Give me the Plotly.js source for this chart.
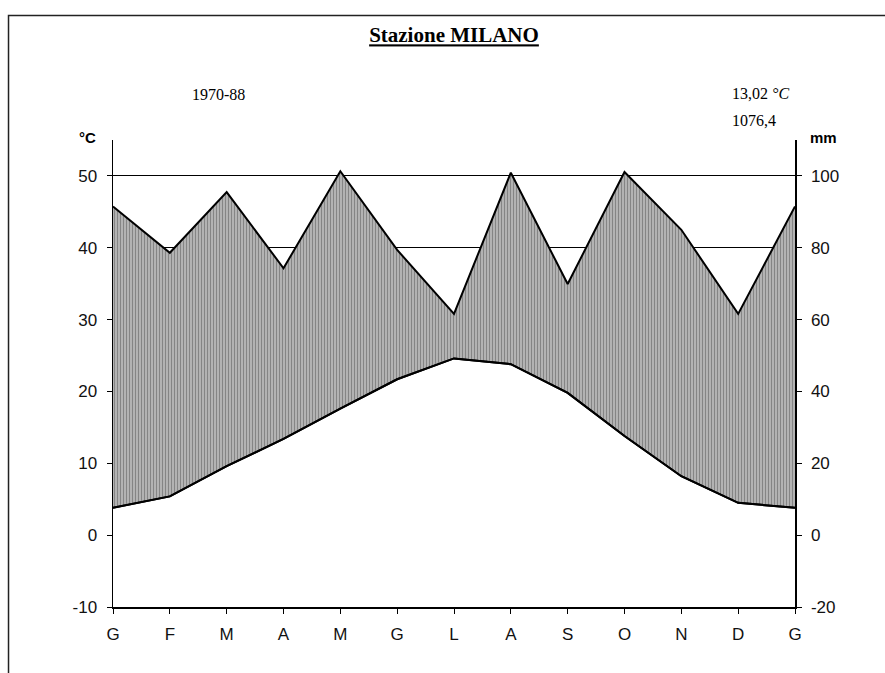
<!DOCTYPE html>
<html>
<head>
<meta charset="utf-8">
<script src="https://cdn.plot.ly/plotly-3.0.1.min.js"></script>
<style>html,body{margin:0;padding:0;background:#fff;}#chart{width:885px;height:673px;}</style>
</head>
<body>
<div id="chart"></div>
<script>
// Month labels (Italian initials), repeated January at the end
var months = ['G','F','M','A','M','G','L','A','S','O','N','D','G'];
// Mean monthly temperature (°C)
var tempC = [3.8, 5.4, 9.6, 13.4, 17.6, 21.7, 24.6, 23.8, 19.8, 13.8, 8.2, 4.5, 3.8];
// Mean monthly precipitation (mm)
var precipMm = [91.5, 78.6, 95.5, 74.3, 101.3, 79.4, 61.6, 100.9, 69.9, 101.1, 85.0, 61.6, 91.5];
// Axis ticks
var tempTicks = [-10, 0, 10, 20, 30, 40, 50];
var tempTickText = ['-10', '0', '10', '20', '30', '40', '50'];
var precipTicks = [-20, 0, 20, 40, 60, 80, 100];
var precipTickText = ['-20', '0', '20', '40', '60', '80', '100'];
var gridTicks = [40, 50];
// Walter-Lieth convention: 1 °C corresponds to 2 mm
var mmPerDeg = 2;

var xIdx = months.map(function(_, i){ return i; });
var precipOnTempScale = precipMm.map(function(p){ return p / mmPerDeg; });

var tickFont = {family: 'Liberation Sans, Arial, sans-serif', size: 17, color: '#111'};

var traces = [
  {x: xIdx, y: tempC, type: 'scatter', mode: 'lines', yaxis: 'y',
   line: {color: '#000', width: 2}, hoverinfo: 'skip', showlegend: false},
  {x: xIdx, y: precipOnTempScale, type: 'scatter', mode: 'lines', yaxis: 'y',
   fill: 'tonexty', fillcolor: 'rgba(0,0,0,0)',
   fillpattern: {shape: '|', size: 3, solidity: 0.75, fgcolor: '#858585', bgcolor: '#fff'},
   line: {color: '#000', width: 2}, hoverinfo: 'skip', showlegend: false},
  {x: xIdx, y: tempC, type: 'scatter', mode: 'lines', yaxis: 'y',
   line: {color: '#000', width: 2}, hoverinfo: 'skip', showlegend: false},
  {x: [0], y: [0], type: 'scatter', mode: 'markers', yaxis: 'y2', marker: {opacity: 0},
   hoverinfo: 'skip', showlegend: false},
  {x: [0], y: [0], type: 'scatter', mode: 'markers', yaxis: 'y3', marker: {opacity: 0},
   hoverinfo: 'skip', showlegend: false}
];

var layout = {
  width: 885, height: 673,
  margin: {l: 113, r: 90, t: 140, b: 66},
  paper_bgcolor: '#fff', plot_bgcolor: 'rgba(0,0,0,0)',
  showlegend: false,
  title: {
    text: '<u><b>Stazione MILANO</b></u>',
    font: {family: 'Liberation Serif, Times New Roman, serif', size: 21, color: '#000'},
    xref: 'paper', x: 0.5, xanchor: 'center',
    yref: 'container', y: 0.948, yanchor: 'middle'
  },
  xaxis: {
    range: [0, 12], tickmode: 'array', tickvals: xIdx, ticktext: months,
    showgrid: false, zeroline: false, showline: true, linecolor: '#000', linewidth: 1.5,
    ticks: 'outside', ticklen: 5, tickcolor: '#000', tickwidth: 1,
    tickfont: tickFont, ticklabelstandoff: 6, fixedrange: true
  },
  yaxis: {
    range: [-10, 55], tickmode: 'array', tickvals: tempTicks, ticktext: tempTickText,
    showgrid: false, zeroline: false, showline: true, linecolor: '#000', linewidth: 1.5,
    ticks: 'outside', ticklen: 5, tickcolor: '#000', tickwidth: 1,
    tickfont: tickFont, ticklabelstandoff: 6, fixedrange: true
  },
  yaxis2: {
    range: [-20, 110], overlaying: 'y', side: 'right', tickmode: 'array', tickvals: precipTicks,
    ticktext: precipTickText,
    showgrid: false, zeroline: false, showline: true, linecolor: '#000', linewidth: 1.5,
    ticks: 'outside', ticklen: 5, tickcolor: '#000', tickwidth: 1,
    tickfont: tickFont, ticklabelstandoff: 6, fixedrange: true
  },
  yaxis3: {
    range: [-10, 55], overlaying: 'y', side: 'left', tickmode: 'array', tickvals: gridTicks,
    showgrid: true, gridcolor: '#000', gridwidth: 1, showticklabels: false, ticks: '',
    zeroline: false, showline: false, layer: 'below traces', fixedrange: true
  },
  shapes: [
    {type: 'rect', xref: 'paper', yref: 'paper', x0: -0.1532, x1: 1.2, y0: -0.2, y1: 1.2666,
     line: {color: '#222', width: 1.5}, fillcolor: 'rgba(0,0,0,0)', layer: 'above'}
  ],
  annotations: [
    {text: '1970-88', xref: 'paper', yref: 'paper', x: 0.154, y: 1.0964, xanchor: 'center', yanchor: 'middle',
     showarrow: false, font: {family: 'Liberation Serif, Times New Roman, serif', size: 16, color: '#000'}},
    {text: '13,02 <i>°C</i>', xref: 'paper', yref: 'paper', x: 0.9047, y: 1.1006, xanchor: 'left', yanchor: 'middle',
     showarrow: false, font: {family: 'Liberation Serif, Times New Roman, serif', size: 16, color: '#000'}},
    {text: '1076,4', xref: 'paper', yref: 'paper', x: 0.9047, y: 1.0428, xanchor: 'left', yanchor: 'middle',
     showarrow: false, font: {family: 'Liberation Serif, Times New Roman, serif', size: 16, color: '#000'}},
    {text: '<b>°C</b>', xref: 'paper', yref: 'paper', x: -0.0367, y: 1.0064, xanchor: 'center', yanchor: 'middle',
     showarrow: false, font: {family: 'Liberation Sans, Arial, sans-serif', size: 15, color: '#000'}},
    {text: '<b>mm</b>', xref: 'paper', yref: 'paper', x: 1.0425, y: 1.0064, xanchor: 'center', yanchor: 'middle',
     showarrow: false, font: {family: 'Liberation Sans, Arial, sans-serif', size: 15, color: '#000'}}
  ]
};

Plotly.newPlot('chart', traces, layout, {displayModeBar: false, staticPlot: true});
</script>
</body>
</html>
